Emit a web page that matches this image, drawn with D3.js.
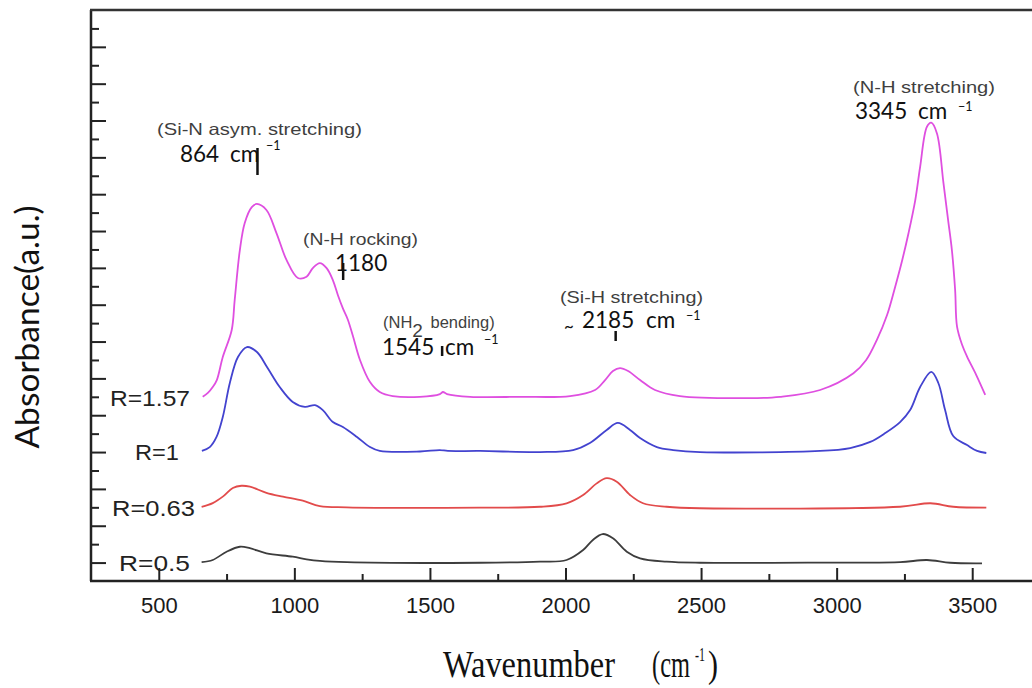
<!DOCTYPE html>
<html>
<head>
<meta charset="utf-8">
<script src="https://cdn.jsdelivr.net/npm/d3@7"></script>
<style>
  body { margin: 0; background: #fff; }
  svg { display: block; }
</style>
</head>
<body>
<svg id="chart" width="1032" height="688"></svg>
<script>
// FTIR absorbance spectra of SiNx:H films for four gas ratios R,
// each trace offset vertically (arbitrary units).

const seriesNames = ["R=0.5", "R=0.63", "R=1", "R=1.57"];
const seriesColors = ["#3d3d3d", "#e24b4b", "#4343cf", "#df4fe0"];

// [wavenumber (cm^-1), absorbance (a.u.)]
const specR050 = [
  [658, 0.102], [699, 0.114], [750, 0.159], [799, 0.186], [836, 0.178],
  [897, 0.150], [994, 0.132], [1045, 0.118], [1094, 0.109], [1193, 0.102],
  [1685, 0.099], [1906, 0.105], [2004, 0.114], [2065, 0.168], [2101, 0.223],
  [2137, 0.255], [2175, 0.232], [2226, 0.159], [2275, 0.123], [2373, 0.105],
  [2496, 0.099], [3000, 0.100], [3234, 0.102], [3333, 0.114], [3419, 0.099],
  [3536, 0.096]
];
const specR063 = [
  [658, 0.403], [699, 0.423], [736, 0.458], [773, 0.505], [805, 0.517],
  [836, 0.512], [897, 0.479], [958, 0.458], [1031, 0.436], [1094, 0.407],
  [1193, 0.400], [1685, 0.398], [1906, 0.403], [2004, 0.422], [2065, 0.467],
  [2115, 0.530], [2152, 0.558], [2189, 0.539], [2238, 0.467], [2286, 0.422],
  [2373, 0.403], [2496, 0.395], [3234, 0.403], [3346, 0.422], [3430, 0.403],
  [3552, 0.398]
];
const specR100 = [
  [659, 0.706], [688, 0.727], [713, 0.782], [736, 0.890], [762, 1.075],
  [792, 1.216], [825, 1.270], [862, 1.243], [899, 1.162], [946, 1.053],
  [994, 0.972], [1039, 0.945], [1076, 0.955], [1105, 0.928], [1142, 0.863],
  [1179, 0.836], [1231, 0.782], [1279, 0.727], [1315, 0.706], [1463, 0.703],
  [1537, 0.711], [1566, 0.706], [1685, 0.706], [1906, 0.700], [2028, 0.711],
  [2090, 0.749], [2152, 0.820], [2193, 0.858], [2238, 0.820], [2275, 0.776],
  [2337, 0.727], [2397, 0.711], [2496, 0.700], [2939, 0.706], [3050, 0.722],
  [3124, 0.755], [3179, 0.803], [3234, 0.863], [3271, 0.928], [3308, 1.053],
  [3349, 1.135], [3375, 1.075], [3400, 0.928], [3430, 0.787], [3481, 0.738],
  [3518, 0.706], [3552, 0.695]
];
const specR157 = [
  [662, 1.000], [681, 1.021], [699, 1.053], [714, 1.091], [736, 1.216],
  [769, 1.363], [780, 1.526], [799, 1.797], [817, 1.944], [843, 2.030],
  [862, 2.047], [897, 2.014], [934, 1.889], [971, 1.743], [1013, 1.645],
  [1045, 1.652], [1068, 1.699], [1094, 1.726], [1119, 1.699], [1142, 1.634],
  [1161, 1.550], [1179, 1.480], [1197, 1.420], [1216, 1.330], [1242, 1.200],
  [1279, 1.080], [1315, 1.026], [1363, 1.004], [1463, 1.000], [1537, 1.015],
  [1548, 1.026], [1563, 1.015], [1648, 1.000], [1832, 1.000], [2017, 1.004],
  [2109, 1.037], [2146, 1.091], [2175, 1.140], [2201, 1.156], [2231, 1.140],
  [2275, 1.091], [2330, 1.037], [2422, 1.004], [2681, 0.993], [2791, 1.000],
  [2939, 1.037], [3062, 1.128], [3109, 1.200], [3148, 1.308], [3186, 1.444],
  [3216, 1.598], [3242, 1.743], [3265, 1.888], [3290, 2.068], [3308, 2.249],
  [3333, 2.466], [3349, 2.488], [3370, 2.430], [3394, 2.160], [3411, 1.960],
  [3425, 1.797], [3437, 1.580], [3444, 1.381], [3463, 1.281], [3481, 1.218],
  [3515, 1.118], [3548, 1.010]
];
const spectra = [specR050, specR063, specR100, specR157];

const xMajorTicks = [500, 1000, 1500, 2000, 2500, 3000, 3500];
const xMinorTicks = [750, 1250, 1750, 2250, 2750, 3250];
const yLongTicks = [0.1, 0.3, 0.5, 0.7, 0.9, 1.1, 1.3, 1.5, 1.7, 1.9, 2.1, 2.3, 2.5, 2.7, 2.9];
const yShortTicks = [0.2, 0.4, 0.6, 0.8, 1.0, 1.2, 1.4, 1.6, 1.8, 2.0, 2.2, 2.4, 2.6, 2.8, 3.0];

// Assigned vibrational bands
const bandWavenumbers = [864, 1180, 1545, 2185, 3345];
const bandNames = ["(Si-N asym. stretching)", "(N-H rocking)", "(NH|2| bending)", "(Si-H stretching)", "(N-H stretching)"];
const bandValueText = ["864", "1180", "1545", "2185", "3345"];
const bandHasUnit = [true, false, true, true, true];

const W = 1032, H = 688;
const svg = d3.select("#chart");
svg.append("rect").attr("width", W).attr("height", H).attr("fill", "#fff");

const x = d3.scaleLinear().domain([250, 3750]).range([91, 1040]);
const y = d3.scaleLinear().domain([0, 3.1]).range([581, 10]);

const axisColor = "#222";

// ---- axes ----
const gxMinor = svg.append("g").attr("transform", "translate(0,581)")
  .call(d3.axisBottom(x).tickValues(xMinorTicks).tickSize(-7).tickFormat(""));
const gx = svg.append("g").attr("transform", "translate(0,581)")
  .call(d3.axisBottom(x).tickValues(xMajorTicks).tickSize(-13).tickSizeOuter(0)
    .tickPadding(16).tickFormat(d3.format("d")));
const gyShort = svg.append("g").attr("transform", "translate(91,0)")
  .call(d3.axisLeft(y).tickValues(yShortTicks).tickSize(-8).tickFormat(""));
const gyLong = svg.append("g").attr("transform", "translate(91,0)")
  .call(d3.axisLeft(y).tickValues(yLongTicks).tickSize(-15).tickFormat("").tickSizeOuter(0));

[gxMinor, gx, gyShort, gyLong].forEach(g => {
  g.selectAll(".tick line").attr("stroke", axisColor).attr("stroke-width", 2);
  g.select(".domain").remove();
});
gx.selectAll(".tick text")
  .attr("font-family", "'Liberation Sans', Arial, sans-serif")
  .attr("font-size", 22)
  .attr("fill", "#1a1a1a");

// frame: left axis, bottom axis, top border
svg.append("line").attr("x1", 91).attr("x2", 91).attr("y1", y(3.1)).attr("y2", y(0))
  .attr("stroke", axisColor).attr("stroke-width", 2.5);
svg.append("line").attr("x1", 90).attr("x2", W).attr("y1", y(0)).attr("y2", y(0))
  .attr("stroke", axisColor).attr("stroke-width", 2.5);
svg.append("line").attr("x1", 90).attr("x2", W).attr("y1", y(3.1)).attr("y2", y(3.1))
  .attr("stroke", "#333").attr("stroke-width", 2.5);

// ---- spectra ----
const line = d3.line()
  .x(d => x(d[0]))
  .y(d => y(d[1]))
  .curve(d3.curveCatmullRom.alpha(0.5));

svg.append("g").selectAll("path")
  .data(spectra)
  .join("path")
  .attr("d", line)
  .attr("fill", "none")
  .attr("stroke", (d, i) => seriesColors[i])
  .attr("stroke-width", 1.8)
  .attr("stroke-linejoin", "round");

// series labels to the left of each trace
const labelRight = [190, 195, 179, 190];
const labelWidth = [71, 83, 44, 80];
svg.append("g").selectAll("text")
  .data(seriesNames)
  .join("text")
  .attr("x", (d, i) => labelRight[i])
  .attr("y", (d, i) => y(spectra[i][0][1]) + 9)
  .attr("text-anchor", "end")
  .attr("font-family", "'Liberation Sans', Arial, sans-serif")
  .attr("font-size", 22)
  .attr("fill", "#222")
  .attr("textLength", (d, i) => labelWidth[i])
  .attr("lengthAdjust", "spacingAndGlyphs")
  .text(d => d);

// ---- band annotations ----
const bandLayout = [
  { tx: 157, ty: 135, tw: 205, vx: 180, vy: 162, cx: 230, sx: 266, sy: 150, m: [148, 175] },
  { tx: 303, ty: 245, tw: 115, vx: 335, vy: 271, m: [263, 280] },
  { tx: 383, ty: 328, tw: 134, vx: 382, vy: 355, cx: 445, sx: 484, sy: 344, m: [346, 356] },
  { tx: 560, ty: 303, tw: 143, vx: 582, vy: 328, cx: 646, sx: 686, sy: 320, m: [331, 341], tilde: 564 },
  { tx: 853, ty: 93, tw: 142, vx: 855, vy: 119, cx: 918, sx: 958, sy: 111 }
];

const ann = svg.append("g");
bandNames.forEach((name, i) => {
  const L = bandLayout[i];
  const t = ann.append("text")
    .attr("x", L.tx).attr("y", L.ty)
    .attr("font-family", "'Liberation Sans', Arial, sans-serif")
    .attr("font-size", 16.5)
    .attr("fill", "#3f3f3f");
  const parts = name.split("|");
  if (parts.length === 1) {
    t.attr("textLength", L.tw).attr("lengthAdjust", "spacingAndGlyphs").text(name);
  } else {
    t.append("tspan").text(parts[0]);
    t.append("tspan").attr("dy", 9).attr("font-size", 19).text(parts[1]);
    t.append("tspan").attr("dx", 3).attr("dy", -9).text(parts[2]);
  }

  if (L.tilde) {
    ann.append("text").attr("x", L.tilde).attr("y", L.vy + 4)
      .attr("font-family", "Lato, sans-serif").attr("font-size", 17).attr("fill", "#111")
      .text("~");
  }
  ann.append("text").attr("x", L.vx).attr("y", L.vy)
    .attr("font-family", "Lato, 'Open Sans', sans-serif")
    .attr("font-size", 22.5).attr("fill", "#111")
    .text(bandValueText[i]);
  if (bandHasUnit[i]) {
    ann.append("text").attr("x", L.cx).attr("y", L.vy)
      .attr("font-family", "Lato, 'Open Sans', sans-serif")
      .attr("font-size", 22.5).attr("fill", "#111")
      .text("cm");
    ann.append("text").attr("x", L.sx).attr("y", L.sy)
      .attr("font-family", "Lato, 'Open Sans', sans-serif")
      .attr("font-size", 12.5).attr("fill", "#111")
      .text("\u22121");
  }
  if (L.m) {
    ann.append("line")
      .attr("x1", x(bandWavenumbers[i])).attr("x2", x(bandWavenumbers[i]))
      .attr("y1", L.m[0]).attr("y2", L.m[1])
      .attr("stroke", "#111").attr("stroke-width", 2.5);
  }
});

// ---- axis titles ----
svg.append("text")
  .attr("transform", "translate(39,327) rotate(-90)")
  .attr("text-anchor", "middle")
  .attr("font-family", "Lato, 'Open Sans', sans-serif")
  .attr("font-size", 32)
  .attr("fill", "#111")
  .attr("textLength", 243)
  .attr("lengthAdjust", "spacingAndGlyphs")
  .text("Absorbance(a.u.)");

const xt = svg.append("g").attr("font-family", "'Liberation Serif', 'Times New Roman', serif").attr("fill", "#111");
xt.append("text").attr("x", 443).attr("y", 677).attr("font-size", 37)
  .attr("textLength", 172).attr("lengthAdjust", "spacingAndGlyphs").text("Wavenumber");
xt.append("text").attr("x", 652).attr("y", 677).attr("font-size", 37)
  .attr("textLength", 38).attr("lengthAdjust", "spacingAndGlyphs").text("(cm");
xt.append("text").attr("x", 695).attr("y", 661).attr("font-size", 19)
  .attr("textLength", 10).attr("lengthAdjust", "spacingAndGlyphs").text("-1");
xt.append("text").attr("x", 708).attr("y", 677).attr("font-size", 37)
  .attr("textLength", 10).attr("lengthAdjust", "spacingAndGlyphs").text(")");
</script>
</body>
</html>
